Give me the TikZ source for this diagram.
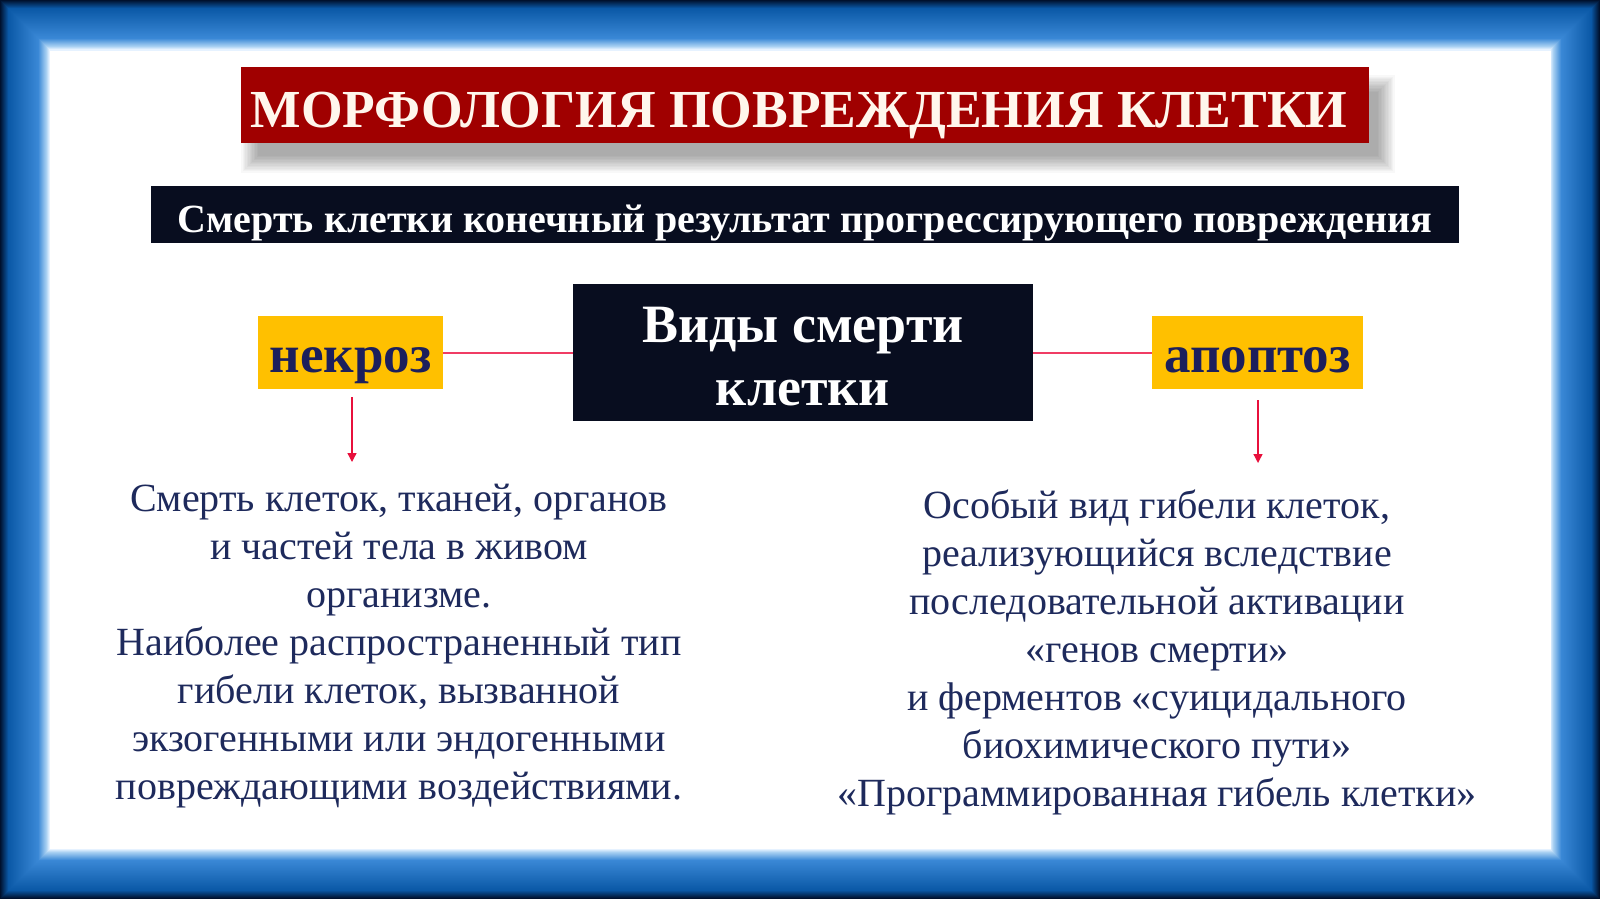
\documentclass[tikz,border=0pt]{standalone}
\usepackage{fontspec}
\setmainfont{Liberation Serif}
\usetikzlibrary{arrows.meta}
\definecolor{fnavy}{HTML}{00112E}
\definecolor{fblue}{HTML}{0A58A6}
\definecolor{fmid}{HTML}{3A88D6}
\definecolor{flight}{HTML}{A8D0F2}
\definecolor{fpale}{HTML}{E6F2FF}
\definecolor{titlered}{HTML}{A00000}
\definecolor{cream}{HTML}{FFF6EC}
\definecolor{darkbox}{HTML}{080D1F}
\definecolor{gold}{HTML}{FFC000}
\definecolor{inknavy}{HTML}{1C1F5C}
\definecolor{bodynavy}{HTML}{1E2A5C}
\definecolor{linkred}{HTML}{F03C64}
\definecolor{arrowred}{HTML}{E8103C}
\begin{document}
\begin{tikzpicture}[x=1pt,y=-1pt,
  titlebox/.style={fill=titlered, text=cream, font=\bfseries\fontsize{53.5}{60}\selectfont,
    minimum width=1128pt, minimum height=76pt, inner sep=0pt, text height=44pt, text depth=0pt},
  subbox/.style={fill=darkbox, text=white, font=\bfseries\fontsize{40}{44}\selectfont,
    minimum width=1308pt, minimum height=57pt, inner sep=0pt, text height=40pt, text depth=4pt},
  centerbox/.style={fill=darkbox, minimum width=460pt, minimum height=137pt, inner sep=0pt},
  centertext/.style={text=white, font=\bfseries\fontsize{54}{63}\selectfont, align=center, inner sep=0pt},
  kindbox/.style={fill=gold, text=inknavy, font=\bfseries\fontsize{53}{60}\selectfont,
    minimum height=73pt, inner sep=0pt, text height=50pt, text depth=10pt},
  bodytext/.style={text=bodynavy, font=\fontsize{40}{48}\selectfont, align=center, inner sep=0pt},
  linkline/.style={draw=linkred, line width=2pt},
  pointer/.style={draw=arrowred, line width=1.4pt, -{Triangle[width=9pt,length=9pt]}}
]
\useasboundingbox (0,0) rectangle (1600,899);
% frame
\foreach \i in {0,...,8}{\pgfmathsetmacro\p{100*\i/8}
  \fill[fblue!\p!fnavy] (\i,\i) rectangle (1600-\i,899-\i);}
\foreach \i in {9,...,38}{\pgfmathsetmacro\p{100*(\i-8)/30}
  \fill[fmid!\p!fblue] (\i,\i) rectangle (1600-\i,899-\i);}
\foreach \i in {39,...,46}{\pgfmathsetmacro\p{100*(\i-38)/8}
  \fill[flight!\p!fmid] (\i,\i) rectangle (1600-\i,899-\i);}
\foreach \i in {47,...,49}{\pgfmathsetmacro\p{100*(\i-46)/3}
  \fill[fpale!\p!flight] (\i,\i) rectangle (1600-\i,899-\i);}
\fill[white] (50,51) rectangle (1551,849);
% soft shadow of the title
\foreach \k in {0,...,12}{
  \fill[black, opacity=0.028] (258-1.4*\k,92-1.4*\k) rectangle (1378+1.4*\k,156+1.4*\k);}
% title
\node[titlebox] (title) at (805,105) {\hspace*{-12pt}МОРФОЛОГИЯ ПОВРЕЖДЕНИЯ КЛЕТКИ};
\node[subbox] (sub) at (805,214.5) {Смерть клетки конечный результат прогрессирующего повреждения};
\node[centerbox] (kinds) at (803,352.5) {};
\node[centertext] (kindstext) at (803,357) {Виды смерти\\клетки};
\node[kindbox, minimum width=185pt] (necro) at (350.5,352.5) {некроз};
\node[kindbox, minimum width=211pt] (apop) at (1257.5,352.5) {апоптоз};
\draw[linkline] (necro.east) -- (kinds.west);
\draw[linkline] (kinds.east) -- (apop.west);
\coordinate (nd) at (352,462);
\coordinate (ad) at (1258,463);
\draw[pointer] (necro.south) ++(1.5,8) -- (nd);
\draw[pointer] (apop.south) ++(0.5,11) -- (ad);
\node[bodytext, anchor=north] (necrotext) at (399,484) {Смерть клеток, тканей, органов\\и частей тела в живом\\организме.\\Наиболее распространенный тип\\гибели клеток, вызванной\\экзогенными или эндогенными\\повреждающими воздействиями.};
\node[bodytext, anchor=north] (apoptext) at (1157,490) {Особый вид гибели клеток,\\реализующийся вследствие\\последовательной активации\\«генов смерти»\\и ферментов «суицидального\\биохимического пути»\\«Программированная гибель клетки»};
\end{tikzpicture}
\end{document}
